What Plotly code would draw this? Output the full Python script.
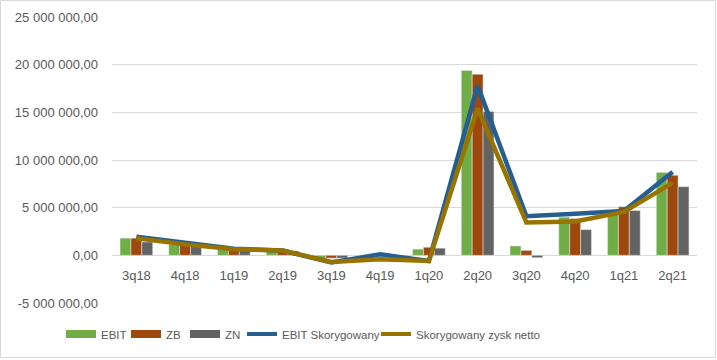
import plotly.graph_objects as go

categories = ["3q18", "4q18", "1q19", "2q19", "3q19", "4q19", "1q20", "2q20", "3q20", "4q20", "1q21", "2q21"]
ebit = [1.80e6, 1.15e6, 0.60e6, 0.45e6, -0.35e6, 0.02e6, 0.65e6, 19.4e6, 0.98e6, 4.0e6, 4.5e6, 8.7e6]
zb = [1.80e6, 1.10e6, 0.60e6, 0.50e6, -0.30e6, 0.02e6, 0.85e6, 19.0e6, 0.52e6, 3.85e6, 5.1e6, 8.4e6]
zn = [1.40e6, 1.00e6, 0.55e6, 0.45e6, -0.30e6, 0.02e6, 0.75e6, 15.1e6, -0.25e6, 2.7e6, 4.7e6, 7.2e6]
ebit_skor = [1.95e6, 1.30e6, 0.70e6, 0.50e6, -0.75e6, 0.10e6, -0.60e6, 17.8e6, 4.1e6, 4.35e6, 4.65e6, 8.75e6]
zysk_skor = [1.80e6, 1.15e6, 0.65e6, 0.50e6, -0.70e6, -0.40e6, -0.60e6, 15.4e6, 3.45e6, 3.55e6, 4.55e6, 7.6e6]
y_ticks = [-5e6, 0, 5e6, 10e6, 15e6, 20e6, 25e6]
y_labels = ["-5 000 000,00", "0,00", "5 000 000,00", "10 000 000,00", "15 000 000,00", "20 000 000,00", "25 000 000,00"]

series_names = ["EBIT", "ZB", "ZN", "EBIT Skorygowany", "Skorygowany zysk netto"]
series_colors = ["#70AD47", "#9E480E", "#636363", "#255E91", "#997300"]

W, H = 717, 360
ml, mr, mt, mb = 112, 20, 17, 57
pw, ph = W - ml - mr, H - mt - mb
FONT = "Liberation Sans, Arial, sans-serif"
TXT = "#595959"
Y_MIN, Y_MAX = -5e6, 25e6

fig = go.Figure()
for vals, nm, col in zip([ebit, zb, zn], series_names[:3], series_colors[:3]):
    fig.add_trace(go.Bar(x=categories, y=vals, name=nm, marker_color=col, showlegend=False))
fig.add_trace(go.Scatter(x=categories, y=ebit_skor, name=series_names[3], mode="lines",
                         line=dict(color=series_colors[3], width=4.5), showlegend=False))
fig.add_trace(go.Scatter(x=categories, y=zysk_skor, name=series_names[4], mode="lines",
                         line=dict(color=series_colors[4], width=4.5), showlegend=False))

# legend entries (one legend per entry, positioned like the original)
legend_swatch_px = [69, 134, 193, 250, 384]
legend_widths = [8, 8, 8, 4, 4]
layout_legends = {}
for i, (nm, col, lw, sx) in enumerate(zip(series_names, series_colors, legend_widths, legend_swatch_px)):
    key = "legend" if i == 0 else f"legend{i+1}"
    fig.add_trace(go.Scatter(x=[None], y=[None], mode="lines", name=nm,
                             line=dict(color=col, width=lw), showlegend=True, legend=key,
                             hoverinfo="skip"))
    layout_legends[key] = dict(orientation="h", x=(sx - 8 - ml) / pw, xanchor="left",
                               y=-(334 - (H - mb)) / ph, yanchor="middle",
                               font=dict(family=FONT, size=11.5, color=TXT),
                               itemwidth=30, bgcolor="rgba(0,0,0,0)")

fig.update_layout(
    width=W, height=H,
    margin=dict(l=ml, r=mr, t=mt, b=mb, autoexpand=False),
    paper_bgcolor="white", plot_bgcolor="white",
    barmode="group", bargap=0.33, bargroupgap=0,
    font=dict(family=FONT, size=13, color=TXT),
    separators=", ",
    shapes=[dict(type="rect", xref="paper", yref="paper",
                 x0=-(ml - 0.5) / pw, x1=1 + (mr - 1.5) / pw,
                 y0=-(mb - 2.5) / ph, y1=1 + (mt - 0.5) / ph,
                 line=dict(color="#D9D9D9", width=1), layer="below")],
    **layout_legends,
)
fig.update_xaxes(showgrid=False, zeroline=False, showline=False, ticks="", automargin=False,
                 anchor="free", position=(0 - Y_MIN) / (Y_MAX - Y_MIN), ticklabelstandoff=11,
                 tickfont=dict(family=FONT, size=13, color=TXT))
fig.update_yaxes(range=[Y_MIN, Y_MAX], tickvals=y_ticks, ticktext=y_labels, automargin=False,
                 showgrid=True, gridcolor="#D9D9D9", gridwidth=1,
                 zeroline=True, zerolinecolor="#D9D9D9", zerolinewidth=1,
                 showline=False, ticks="", ticklabelstandoff=13,
                 tickfont=dict(family=FONT, size=13, color=TXT))

fig.write_html("out.html", config={"displayModeBar": False},
               post_script="document.body.style.margin='0';")
